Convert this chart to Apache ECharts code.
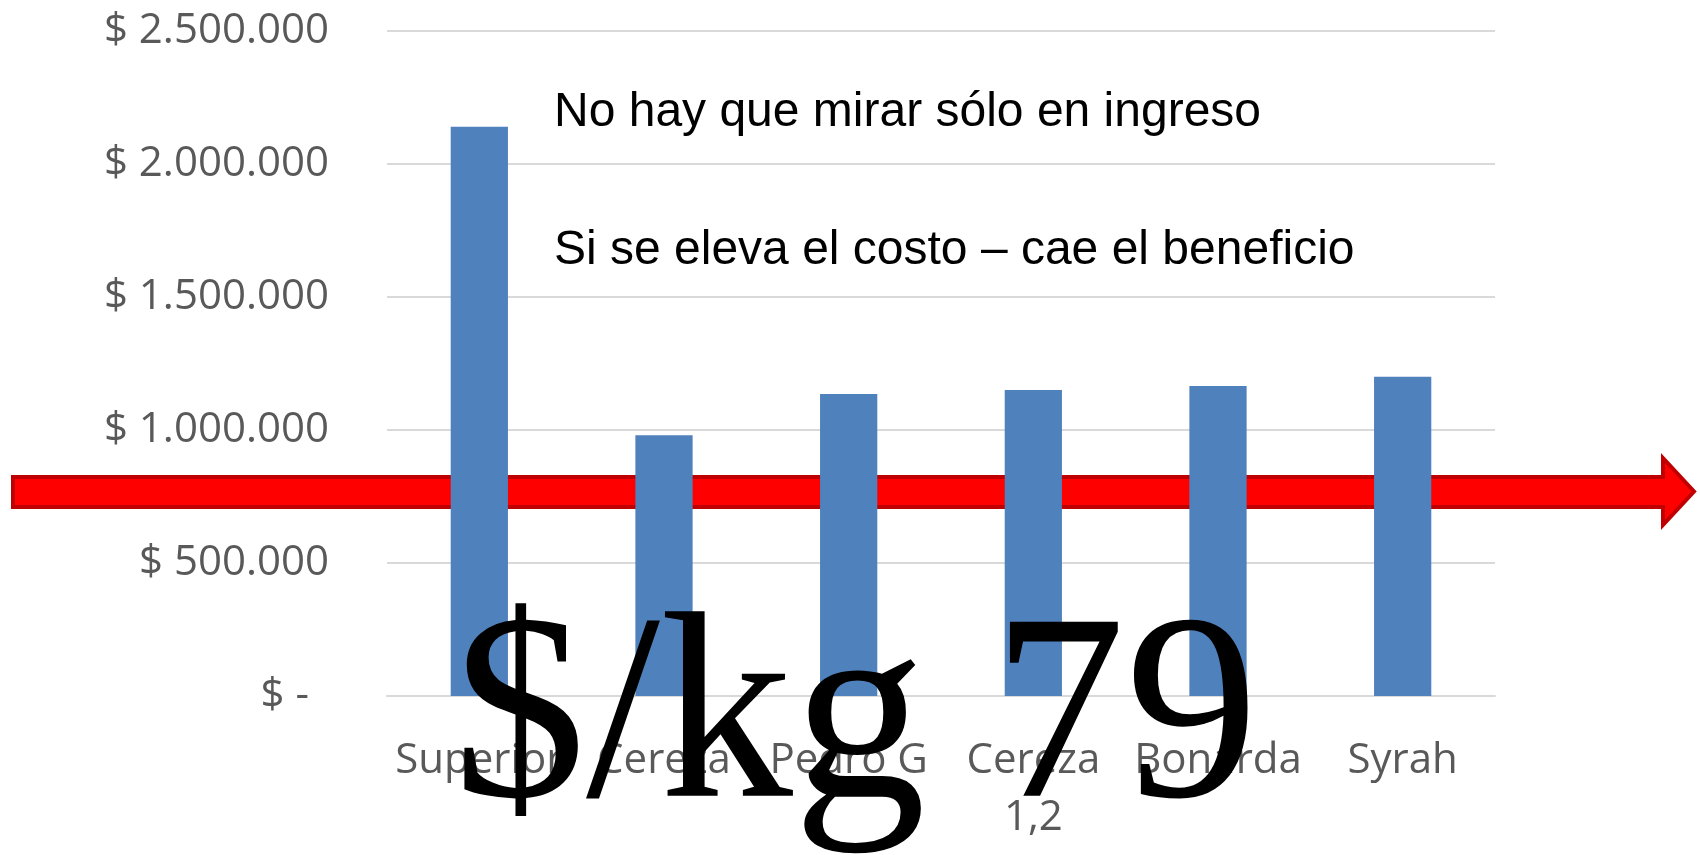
<!DOCTYPE html>
<html>
<head>
<meta charset="utf-8">
<title>Ingreso por variedad</title>
<script src="https://cdn.jsdelivr.net/npm/echarts@6/dist/echarts.min.js"></script>
<style>
html, body { margin: 0; padding: 0; background: #fff; }
#chart { width: 1700px; height: 855px; }
</style>
</head>
<body>
<div id="chart"></div>
<script>
// variedades y su ingreso
const variedades = ['Superior', 'Cereza', 'Pedro G', 'Cereza 1,2', 'Bonarda', 'Syrah']
const ingresos = [2140000, 980000, 1135000, 1150000, 1165000, 1200000]
// eje vertical
const ejeMin = 0
const ejeMax = 2500000
const ejePaso = 500000
// textos superpuestos
const nota1 = 'No hay que mirar sólo en ingreso'
const nota2 = 'Si se eleva el costo – cae el beneficio'
const precio = '$/kg 79'

function formatPesos(val) {
  if (val === 0) return '{cero|$ -}'
  return '$ ' + String(val).replace(/\B(?=(\d{3})+(?!\d))/g, '.')
}

const chart = echarts.init(document.getElementById('chart'))
chart.setOption({
  animation: false,
  backgroundColor: '#ffffff',
  grid: {
    left: 387,
    right: 205,
    top: 31,
    bottom: 159
  },
  xAxis: {
    type: 'category',
    data: variedades,
    axisTick: { show: false },
    axisLine: {
      lineStyle: { color: '#d9d9d9', width: 2 }
    },
    axisLabel: {
      interval: 0,
      color: '#595959',
      fontFamily: 'Open Sans',
      fontSize: 42,
      lineHeight: 57,
      margin: 37,
      // el número va en una segunda línea, como en Excel
      formatter: function(name) {
        return name.replace(/ (\d)/, '\n$1')
      }
    }
  },
  yAxis: {
    type: 'value',
    min: ejeMin,
    max: ejeMax,
    interval: ejePaso,
    axisLine: { show: false },
    axisTick: { show: false },
    splitLine: {
      lineStyle: { color: '#d9d9d9', width: 2 }
    },
    axisLabel: {
      color: '#595959',
      fontFamily: 'Open Sans',
      fontSize: 42,
      margin: 58,
      formatter: formatPesos,
      rich: {
        cero: {
          color: '#595959',
          fontFamily: 'Open Sans',
          fontSize: 42,
          padding: [0, 20, 0, 0]
        }
      }
    }
  },
  series: [{
    type: 'bar',
    data: ingresos,
    barWidth: '31%',
    z: 2,
    itemStyle: { color: '#4f81bd' }
  }],
  graphic: [
    {
      // flecha roja detrás de las barras
      type: 'polygon',
      z: 1,
      shape: {
        points: [[13, 477], [1663, 477], [1663, 458], [1694, 491.5], [1663, 525], [1663, 507], [13, 507]]
      },
      style: { fill: '#ff0000', stroke: '#c00000', lineWidth: 4 }
    },
    {
      type: 'text',
      z: 100,
      x: 554,
      y: 112.5,
      style: {
        text: nota1,
        font: '48px "Liberation Sans", Arial, sans-serif',
        fill: '#000000',
        align: 'left',
        verticalAlign: 'middle'
      }
    },
    {
      type: 'text',
      z: 100,
      x: 554,
      y: 250.5,
      style: {
        text: nota2,
        font: '48px "Liberation Sans", Arial, sans-serif',
        fill: '#000000',
        align: 'left',
        verticalAlign: 'middle'
      }
    },
    {
      type: 'text',
      z: 100,
      x: 453,
      y: 726,
      style: {
        text: precio,
        font: '266px "Liberation Serif", "Times New Roman", Times, serif',
        fill: '#000000',
        align: 'left',
        verticalAlign: 'middle'
      }
    }
  ]
})
</script>
</body>
</html>
